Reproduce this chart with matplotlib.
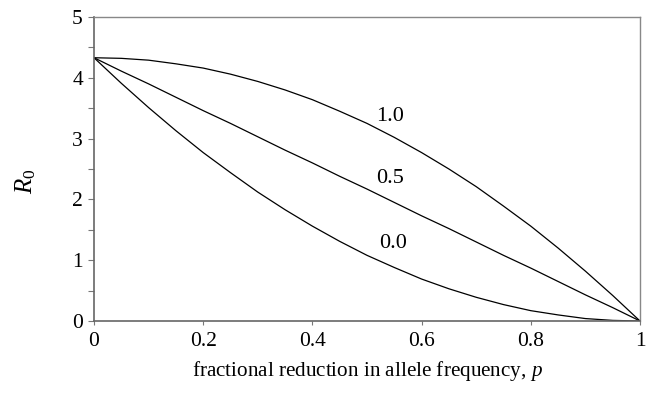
import matplotlib
matplotlib.use("Agg")
import matplotlib.pyplot as plt
from matplotlib.ticker import MultipleLocator

p = [0.0, 0.05, 0.1, 0.15, 0.2, 0.25, 0.3, 0.35, 0.4, 0.45, 0.5,
     0.55, 0.6, 0.65, 0.7, 0.75, 0.8, 0.85, 0.9, 0.95, 1.0]
r0_10 = [4.33, 4.32, 4.29, 4.23, 4.16, 4.06, 3.94, 3.80, 3.64, 3.45, 3.25,
         3.02, 2.77, 2.50, 2.21, 1.89, 1.56, 1.20, 0.82, 0.42, 0.0]
r0_05 = [4.33, 4.11, 3.90, 3.68, 3.46, 3.25, 3.03, 2.81, 2.60, 2.38, 2.17,
         1.95, 1.73, 1.52, 1.30, 1.08, 0.87, 0.65, 0.43, 0.22, 0.0]
r0_00 = [4.33, 3.91, 3.51, 3.13, 2.77, 2.44, 2.12, 1.83, 1.56, 1.31, 1.08,
         0.88, 0.69, 0.53, 0.39, 0.27, 0.17, 0.10, 0.04, 0.01, 0.0]
labels = ["1.0", "0.5", "0.0"]
label_pos = [(0.542, 3.37), (0.542, 2.35), (0.547, 1.27)]
x_ticks = [0, 0.2, 0.4, 0.6, 0.8, 1]
x_ticklabels = ["0", "0.2", "0.4", "0.6", "0.8", "1"]
y_ticks = [0, 1, 2, 3, 4, 5]

plt.rcParams['font.family'] = ['Liberation Serif', 'DejaVu Serif']
plt.rcParams['mathtext.fontset'] = 'custom'
plt.rcParams['mathtext.rm'] = 'Liberation Serif'
plt.rcParams['mathtext.it'] = 'Liberation Serif:italic'

fig = plt.figure(figsize=(6.49, 4.01), dpi=100)
ax = fig.add_axes([94/649, 1-321/401, (640-94)/649, (321-17)/401])

for ys in (r0_10, r0_05, r0_00):
    ax.plot(p, ys, color='black', lw=0.9)

for lab, (lx, ly) in zip(labels, label_pos):
    ax.text(lx, ly, lab, ha='center', va='center', fontsize=16)

ax.set_xlim(0, 1)
ax.set_ylim(0, 5)
ax.set_xticks(x_ticks)
ax.set_xticklabels(x_ticklabels)
ax.set_yticks(y_ticks)
ax.yaxis.set_minor_locator(MultipleLocator(0.5))
ax.tick_params(axis='both', which='both', labelsize=15.5, direction='out',
               color='#777777', width=0.8)
ax.tick_params(axis='y', which='both', length=4, pad=4)
ax.tick_params(axis='x', which='major', length=3, pad=5)

for side in ['left', 'bottom']:
    ax.spines[side].set_color('#666666')
    ax.spines[side].set_linewidth(1.2)
for side in ['top', 'right']:
    ax.spines[side].set_color('#888888')
    ax.spines[side].set_linewidth(1.0)

ax.set_xlabel('fractional reduction in allele frequency, $p$', fontsize=15.2, labelpad=6)
ax.set_ylabel('$R_0$', fontsize=18, rotation=90, va='center', ha='center')
ax.yaxis.set_label_coords(-0.125, 0.46)

fig.savefig('out.png', dpi=100)
